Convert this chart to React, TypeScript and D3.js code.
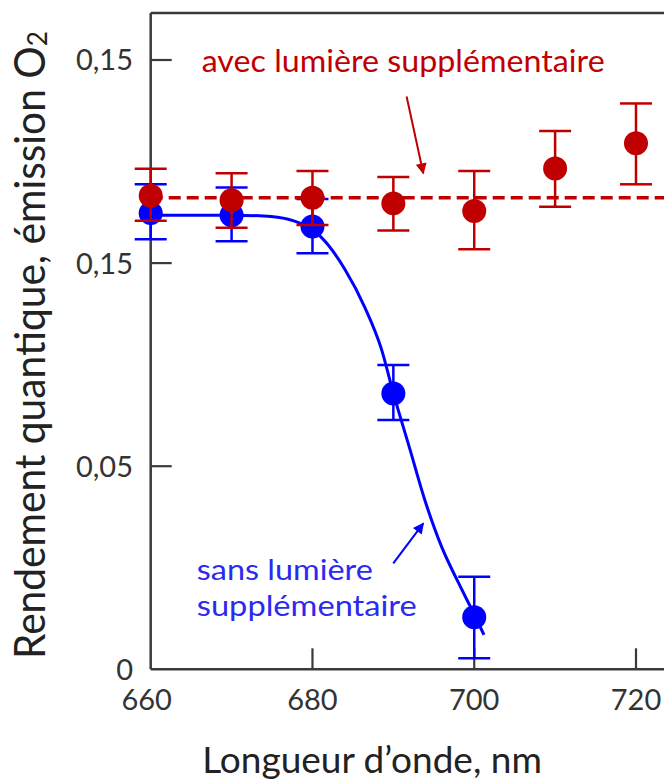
import React from 'react';
import * as d3 from 'd3';

// ---- data ----
const wavelengths = [660, 670, 680, 690, 700, 710, 720];
const withLight = [0.1166, 0.1155, 0.1161, 0.1147, 0.1128, 0.1233, 0.1295];
const withLightLow = [0.1104, 0.1087, 0.1094, 0.108, 0.1034, 0.1139, 0.1194];
const withLightHigh = [0.1232, 0.1221, 0.1227, 0.1212, 0.1227, 0.1325, 0.1393];

const withoutWavelengths = [660, 670, 680, 690, 700];
const withoutLight = [0.1123, 0.1118, 0.109, 0.0679, 0.0128];
const withoutLightLow = [0.1059, 0.1054, 0.1024, 0.0614, 0.0027];
const withoutLightHigh = [0.1194, 0.1186, 0.1158, 0.0749, 0.0228];

const fitX = [660, 670, 674, 677, 679.3, 681, 684, 686.5, 688.5, 690, 692, 694, 696, 698, 700, 701.2];
const fitY = [0.1118, 0.1118, 0.1116, 0.1108, 0.109, 0.1065, 0.0985, 0.089, 0.079, 0.068, 0.0545, 0.041, 0.03, 0.0215, 0.0135, 0.0085];

const averageLevel = 0.1161;

const yTickValues = [0, 0.05, 0.1, 0.15];
const yTickLabels = ['0', '0,05', '0,15', '0,15'];
const xTickValues = [660, 680, 700, 720];
const xTickLabels = ['660', '680', '700', '720'];

const yTitle = 'Rendement quantique, émission O';
const yTitleSub = '2';
const xTitle = 'Longueur d’onde, nm';
const redLabel = 'avec lumière supplémentaire';
const blueLabel = ['sans lumière', 'supplémentaire'];

// ---- layout ----
const W = 664;
const H = 782;
const RED = '#C00000';
const BLUE = '#0000FF';
const BLUE_TEXT = '#2B2BF0';
const AXIS = '#3a3a3a';
const FONT = "Lato, 'Open Sans', sans-serif";

const x = d3.scaleLinear().domain([660, 720]).range([150.7, 636]);
const y = d3.scaleLinear().domain([0, 0.15]).range([669.3, 60]);

const plotLeft = x(660);
const plotBottom = y(0);
const plotTop = 13;
const plotRight = W + 10;

export default function App() {
  const fitLine = d3
    .line<number>()
    .x((d) => x(d))
    .y((_, i) => y(fitY[i]))
    .curve(d3.curveMonotoneX)(fitX) as string;

  const cap = 16;
  const r = 12;

  return (
    <svg
      width={W}
      height={H}
      viewBox={`0 0 ${W} ${H}`}
      style={{ position: 'absolute', left: 0, top: 0, background: '#fff' }}
      fontFamily={FONT}
    >
      <defs>
        <marker id="arrRed" viewBox="0 0 10 10" refX="9" refY="5" markerWidth="13" markerHeight="11" markerUnits="userSpaceOnUse" orient="auto">
          <path d="M0,0 L10,5 L0,10 z" fill={RED} />
        </marker>
        <marker id="arrBlue" viewBox="0 0 10 10" refX="9" refY="5" markerWidth="13" markerHeight="11" markerUnits="userSpaceOnUse" orient="auto">
          <path d="M0,0 L10,5 L0,10 z" fill={BLUE} />
        </marker>
      </defs>

      {/* frame */}
      <line x1={plotLeft} x2={plotRight} y1={plotTop} y2={plotTop} stroke={AXIS} strokeWidth={2.5} />
      <line x1={plotLeft} x2={plotLeft} y1={plotTop} y2={plotBottom} stroke={AXIS} strokeWidth={2.5} />
      <line x1={plotLeft} x2={plotRight} y1={plotBottom} y2={plotBottom} stroke={AXIS} strokeWidth={2.5} />

      {/* y ticks */}
      {yTickValues.map((v, i) => (
        <g key={'yt' + i}>
          {v !== 0 && <line x1={plotLeft} x2={plotLeft + 21} y1={y(v)} y2={y(v)} stroke={AXIS} strokeWidth={2.2} />}
          <text x={133} y={y(v)} dy="0.36em" textAnchor="end" fontSize={29} fill="#333">
            {yTickLabels[i]}
          </text>
        </g>
      ))}

      {/* x ticks */}
      {xTickValues.map((v, i) => (
        <g key={'xt' + i}>
          {v !== 660 && <line x1={x(v)} x2={x(v)} y1={plotBottom} y2={plotBottom - 21} stroke={AXIS} strokeWidth={2.2} />}
          <text x={x(v) - (v === 660 ? 4 : 0)} y={710} textAnchor="middle" fontSize={29} fill="#333">
            {xTickLabels[i]}
          </text>
        </g>
      ))}

      {/* axis titles */}
      <text transform={`translate(45, 345) rotate(-90)`} textAnchor="middle" fontSize={42} fill="#222" textLength={628} lengthAdjust="spacingAndGlyphs">
        {yTitle}
        <tspan fontSize={27} dy={2}>{yTitleSub}</tspan>
      </text>
      <text x={372} y={773} textAnchor="middle" fontSize={37} fill="#222">
        {xTitle}
      </text>

      {/* sans lumière: fit curve, error bars, points */}
      <path d={fitLine} fill="none" stroke={BLUE} strokeWidth={3} />
      {withoutWavelengths.map((w, i) => (
        <g key={'be' + i} stroke={BLUE} strokeWidth={2.5}>
          <line x1={x(w)} x2={x(w)} y1={y(withoutLightLow[i])} y2={y(withoutLightHigh[i])} />
          <line x1={x(w) - cap} x2={x(w) + cap} y1={y(withoutLightLow[i])} y2={y(withoutLightLow[i])} />
          <line x1={x(w) - cap} x2={x(w) + cap} y1={y(withoutLightHigh[i])} y2={y(withoutLightHigh[i])} />
        </g>
      ))}
      {withoutWavelengths.map((w, i) => (
        <circle key={'bp' + i} cx={x(w)} cy={y(withoutLight[i])} r={r} fill={BLUE} />
      ))}

      {/* avec lumière: dashed mean, error bars, points */}
      <line
        x1={plotLeft}
        x2={plotRight}
        y1={y(averageLevel)}
        y2={y(averageLevel)}
        stroke={RED}
        strokeWidth={3.5}
        strokeDasharray="12 6"
      />
      {wavelengths.map((w, i) => (
        <g key={'re' + i} stroke={RED} strokeWidth={2.5}>
          <line x1={x(w)} x2={x(w)} y1={y(withLightLow[i])} y2={y(withLightHigh[i])} />
          <line x1={x(w) - cap} x2={x(w) + cap} y1={y(withLightLow[i])} y2={y(withLightLow[i])} />
          <line x1={x(w) - cap} x2={x(w) + cap} y1={y(withLightHigh[i])} y2={y(withLightHigh[i])} />
        </g>
      ))}
      {wavelengths.map((w, i) => (
        <circle key={'rp' + i} cx={x(w)} cy={y(withLight[i])} r={r} fill={RED} />
      ))}

      {/* annotations */}
      <text x={x(666.3)} y={y(0.1471)} fontSize={31} fill={RED} textLength={403} lengthAdjust="spacingAndGlyphs">
        {redLabel}
      </text>
      <line x1={x(691.64)} y1={y(0.141)} x2={x(693.7)} y2={y(0.1221)} stroke={RED} strokeWidth={2} markerEnd="url(#arrRed)" />

      <text x={x(665.7)} y={y(0.0219)} fontSize={28} fill={BLUE_TEXT} textLength={176} lengthAdjust="spacingAndGlyphs">
        {blueLabel[0]}
      </text>
      <text x={x(665.7)} y={y(0.0132)} fontSize={28} fill={BLUE_TEXT} textLength={220} lengthAdjust="spacingAndGlyphs">
        {blueLabel[1]}
      </text>
      <line x1={x(689.99)} y1={y(0.0261)} x2={x(693.7)} y2={y(0.03594)} stroke={BLUE} strokeWidth={2} markerEnd="url(#arrBlue)" />
    </svg>
  );
}
